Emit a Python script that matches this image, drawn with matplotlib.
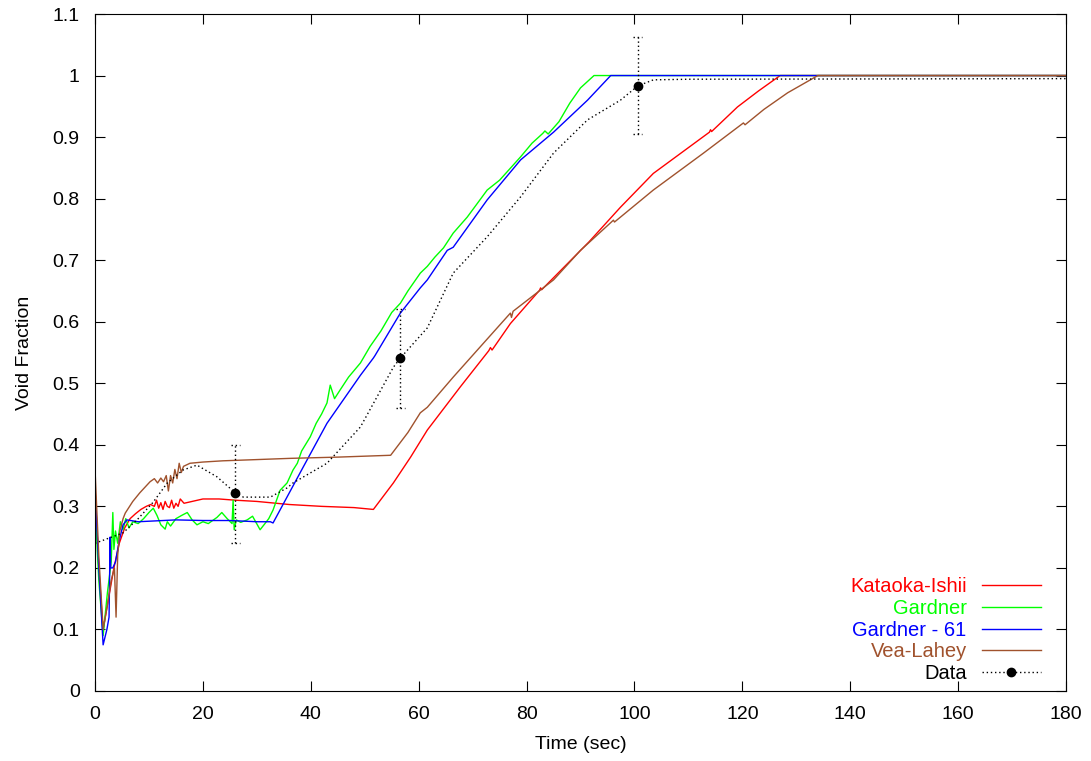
import matplotlib.pyplot as plt
from matplotlib.lines import Line2D

plt.rcParams['font.family'] = ['Liberation Sans', 'DejaVu Sans']

# Kataoka-Ishii
ki_t = [0, 0.7, 1.5, 2.5, 3.5, 4.5, 5.5, 6.5, 7.5, 8.5, 9.5, 10.3, 11, 11.4, 11.8, 12.2, 12.6, 13, 13.4,
        13.8, 14.2, 14.6, 15, 15.4, 15.8, 16.5, 18, 20, 23, 26, 30, 36, 42, 48, 51.6, 55.3, 58.5, 61.6,
        67.7, 73.0, 73.3, 73.6, 77, 82.4, 82.6, 82.8, 91.6, 91.8, 97.4, 103.5, 113.9, 114.1, 114.3,
        119.1, 123, 127, 180]
ki_v = [0.33, 0.2, 0.1, 0.15, 0.2, 0.24, 0.265, 0.28, 0.288, 0.295, 0.3, 0.303, 0.3, 0.31, 0.297, 0.306,
        0.295, 0.308, 0.3, 0.298, 0.31, 0.297, 0.305, 0.3, 0.312, 0.305, 0.308, 0.312, 0.312, 0.31, 0.308,
        0.303, 0.3, 0.298, 0.295, 0.338, 0.38, 0.424, 0.494, 0.553, 0.558, 0.554, 0.597, 0.651, 0.655,
        0.652, 0.73, 0.732, 0.786, 0.841, 0.908, 0.912, 0.909, 0.949, 0.975, 1.0, 1.0]

# Gardner
ga_t = [0, 0.7, 1.5, 2.3, 3.0, 3.3, 3.5, 3.8, 4.2, 4.7, 5.2, 5.7, 6.3, 7, 8, 9, 10, 10.8, 11.5, 12.2,
        13, 13.4, 14, 15, 16, 17.1, 18, 18.9, 20, 21, 22.6, 23.5, 24.5, 25.4, 25.6, 25.8, 26.2, 27,
        28.2, 29.2, 30.6, 31.5, 32.2, 33, 34.3, 35.6, 36.7, 37.5, 38.3, 39.9, 41, 42, 43, 43.6, 44.4,
        45.5, 47, 49.2, 51, 53, 55, 56.6, 58, 60.3, 61.6, 63, 64.6, 66.4, 69, 72.7, 75, 78.9, 81,
        83, 83.4, 84, 86, 88, 90, 92.5, 180]
ga_v = [0.3, 0.18, 0.09, 0.16, 0.21, 0.29, 0.23, 0.26, 0.24, 0.275, 0.262, 0.28, 0.265, 0.275, 0.272,
        0.28, 0.29, 0.297, 0.285, 0.27, 0.263, 0.275, 0.268, 0.28, 0.285, 0.29, 0.278, 0.27, 0.275,
        0.272, 0.282, 0.29, 0.28, 0.272, 0.31, 0.262, 0.278, 0.274, 0.278, 0.284, 0.262, 0.272, 0.28,
        0.294, 0.326, 0.338, 0.359, 0.37, 0.39, 0.413, 0.435, 0.45, 0.468, 0.497, 0.475, 0.49, 0.51,
        0.533, 0.56, 0.585, 0.615, 0.63, 0.65, 0.679, 0.69, 0.705, 0.72, 0.744, 0.77, 0.814, 0.83,
        0.868, 0.89, 0.906, 0.91, 0.905, 0.925, 0.955, 0.98, 1.0, 1.0]

# Gardner - 61
g61_t = [0, 0.7, 1.5, 2.2, 2.6, 2.8, 2.9, 3.3, 3.8, 4.5, 5.2, 5.9, 8, 15, 20, 25, 30, 32.5, 33,
         38.6, 43, 49.2, 51.6, 51.9, 56.6, 60.3, 61.6, 65.3, 66.4, 72.7, 78.9, 85, 91.3, 95.6, 180]
g61_v = [0.33, 0.2, 0.075, 0.1, 0.12, 0.25, 0.2, 0.2, 0.21, 0.245, 0.27, 0.278, 0.275, 0.278, 0.277,
         0.277, 0.275, 0.275, 0.273, 0.364, 0.435, 0.513, 0.541, 0.545, 0.614, 0.655, 0.668, 0.716,
         0.721, 0.798, 0.863, 0.908, 0.96, 1.0, 1.0]

# Vea-Lahey
vl_t = [0, 0.7, 1.5, 2.3, 3.0, 3.6, 3.9, 4.2, 4.6, 5.2, 5.6, 7, 8.3, 10.2, 11, 11.6, 12.2, 12.7,
        13.2, 13.6, 14, 14.4, 14.8, 15.2, 15.6, 16, 16.4, 17.6, 20, 23.7, 30, 36.2, 45, 54.8, 58,
        60.3, 61.6, 66.4, 72, 77, 77.2, 77.5, 85, 90, 96.1, 96.3, 103.5, 112.8, 120.2, 120.5, 124,
        128.4, 134, 180]
vl_v = [0.36, 0.22, 0.1, 0.14, 0.18, 0.2, 0.12, 0.22, 0.26, 0.28, 0.289, 0.308, 0.322, 0.34, 0.345,
        0.338, 0.346, 0.34, 0.35, 0.325, 0.35, 0.338, 0.36, 0.345, 0.37, 0.355, 0.365, 0.37, 0.372,
        0.374, 0.376, 0.378, 0.38, 0.383, 0.42, 0.452, 0.461, 0.51, 0.565, 0.614, 0.607, 0.617,
        0.668, 0.716, 0.765, 0.762, 0.814, 0.874, 0.923, 0.92, 0.945, 0.972, 1.0, 1.0]

# Data (dotted curve + points with error bars)
data_t = [0, 5.2, 8, 10.8, 13.4, 16.3, 18.9, 22.6, 26, 27.5, 30.6, 32.5, 35.6, 36.7, 43, 49.2,
          55.3, 56.6, 61.6, 66.4, 72.7, 78.9, 85, 91.3, 97.4, 100.6, 103.5, 110, 180]
data_v = [0.24, 0.257, 0.28, 0.307, 0.338, 0.359, 0.367, 0.348, 0.322, 0.315, 0.315, 0.315, 0.33,
          0.338, 0.37, 0.429, 0.526, 0.541, 0.59, 0.679, 0.738, 0.803, 0.874, 0.928, 0.96, 0.983,
          0.993, 0.994, 0.995]
pts_t = [26, 56.6, 100.6]
pts_v = [0.322, 0.541, 0.983]
pts_lo = [0.24, 0.46, 0.905]
pts_hi = [0.40, 0.62, 1.063]

fig = plt.figure(figsize=(10.91, 7.61), dpi=100)
ax = fig.add_axes([0.0871, 0.092, 0.8900, 0.8896])

red = '#ff0000'
green = '#00ff00'
blue = '#0000ff'
brown = '#a0522d'
dots = (0, (1, 2))

ax.plot(ki_t, ki_v, color=red, lw=1)
ax.plot(ga_t, ga_v, color=green, lw=1)
ax.plot(g61_t, g61_v, color=blue, lw=1)
ax.plot(vl_t, vl_v, color=brown, lw=1)
ax.plot(data_t, data_v, color='black', lw=1, ls=dots)

# error bars drawn dotted, gnuplot style
cap = 0.8
ax.vlines(pts_t, pts_lo, pts_hi, color='black', lw=1, linestyles=dots)
ax.hlines(pts_lo, [t - cap for t in pts_t], [t + cap for t in pts_t], color='black', lw=1,
          linestyles=dots)
ax.hlines(pts_hi, [t - cap for t in pts_t], [t + cap for t in pts_t], color='black', lw=1,
          linestyles=dots)
ax.plot(pts_t, pts_v, 'o', color='black', ms=6)

handles = [Line2D([], [], color=red, lw=1), Line2D([], [], color=green, lw=1),
           Line2D([], [], color=blue, lw=1), Line2D([], [], color=brown, lw=1),
           Line2D([], [], color='black', lw=1, ls=dots, marker='o', ms=6)]
labels = ['Kataoka-Ishii', 'Gardner', 'Gardner - 61', 'Vea-Lahey', 'Data']
leg = ax.legend(handles, labels, loc='lower right', bbox_to_anchor=(0.974, 0.012), frameon=False,
                markerfirst=False, fontsize=14.5, handlelength=2.93, labelspacing=0.13,
                handletextpad=0.75, borderpad=0, borderaxespad=0)
for txt, col in zip(leg.get_texts(), [red, green, blue, brown, 'black']):
    txt.set_color(col)
    txt.set_horizontalalignment('right')

ax.set_xlim(0, 180)
ax.set_ylim(0, 1.1)
ax.set_xticks(range(0, 181, 20))
ax.set_yticks([i / 10 for i in range(12)])
ax.set_yticklabels(['0', '0.1', '0.2', '0.3', '0.4', '0.5', '0.6', '0.7', '0.8', '0.9', '1', '1.1'])
ax.tick_params(direction='in', length=7, top=True, right=True, labelsize=14, pad=11)
ax.set_xlabel('Time (sec)', fontsize=14, labelpad=9)
ax.set_ylabel('Void Fraction', fontsize=14, labelpad=14)

fig.savefig('out.png', dpi=100)
